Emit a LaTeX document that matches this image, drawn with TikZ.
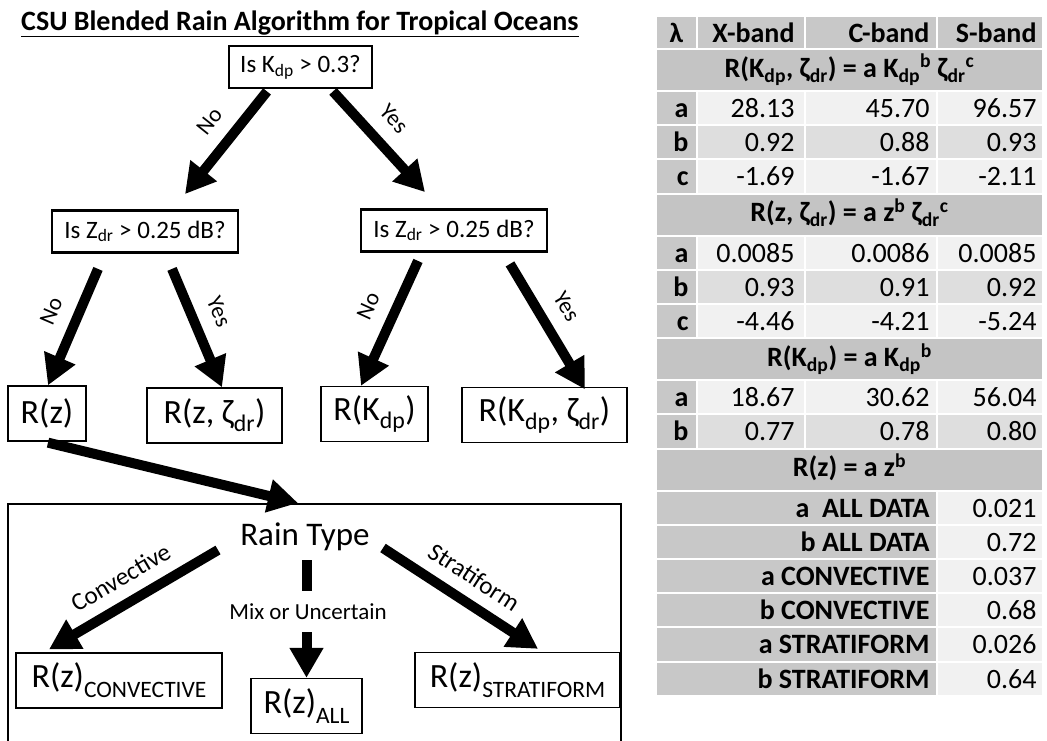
\documentclass[tikz,border=0pt]{standalone}
\usepackage{fontspec}
\setmainfont{Carlito}
\usetikzlibrary{arrows.meta,positioning}
\definecolor{cellgray}{RGB}{200,200,200}
\definecolor{rowgray}{RGB}{196,196,196}
\definecolor{lightcell}{RGB}{241,241,241}
\definecolor{midcell}{RGB}{222,222,222}
\newcommand{\fs}[1]{\fontsize{#1}{#1}\selectfont}
\newcommand{\lo}[1]{\textsubscript{#1}}
\newcommand{\hi}[1]{\textsuperscript{#1}}

\begin{document}
\begin{tikzpicture}[x=1pt,y=-1pt,
    question/.style={draw, line width=2.8pt, inner sep=0pt, minimum height=42pt, font=\fs{25}},
    result/.style={draw, line width=1.3pt, inner sep=0pt, minimum height=55pt, font=\fs{34}},
    bigarrow/.style={line width=10pt, -{Triangle[length=30pt,width=32pt]}},
    choice/.style={font=\fs{23}, sloped, above=13pt, inner sep=1pt, pos=0.45}]
    \useasboundingbox (0,0) rectangle (1047,740);

    % Title
    \node[anchor=base west, font=\fs{28}\bfseries, inner sep=0pt] (title) at (21,30) {\underline{CSU Blended Rain Algorithm for Tropical Oceans}};

    % Decision boxes
    \node[question, minimum width=143pt] (qkdp) at (300.5,67) {Is K\lo{dp} > 0.3?};
    \node[question, minimum width=186pt] (qzl) at (145,231.5) {Is Z\lo{dr} > 0.25 dB?};
    \node[question, minimum width=186pt] (qzr) at (454,230.5) {Is Z\lo{dr} > 0.25 dB?};

    % Estimators
    \node[result, minimum width=78pt] (rz) at (47,413.5) {R(z)};
    \node[result, minimum width=135pt] (rzz) at (214.5,415.5) {R(z, ζ\lo{dr})};
    \node[result, minimum width=107pt] (rk) at (374.5,414) {R(K\lo{dp})};
    \node[result, minimum width=165pt] (rkz) at (544.5,415) {R(K\lo{dp}, ζ\lo{dr})};

    % Arrows of the tree
    \draw[bigarrow] ([xshift=-33.5pt,yshift=-2pt]qkdp.south) -- node[choice] {No} ([xshift=40pt,yshift=15pt]qzl.north);
    \draw[bigarrow] ([xshift=32.5pt,yshift=-2pt]qkdp.south) -- node[choice] {Yes} ([xshift=-29pt,yshift=16pt]qzr.north);
    \draw[bigarrow] ([xshift=-47pt,yshift=-15pt]qzl.south) -- node[choice] {No} ([xshift=1pt]rz.north);
    \draw[bigarrow] ([xshift=27pt,yshift=-15pt]qzl.south) -- node[choice] {Yes} ([xshift=7.5pt]rzz.north);
    \draw[bigarrow] ([xshift=-36pt,yshift=-8pt]qzr.south) -- node[choice] {No} ([xshift=-13.5pt]rk.north);
    \draw[bigarrow] ([xshift=56pt,yshift=-11pt]qzr.south) -- node[choice] {Yes} ([xshift=40.5pt,yshift=-2.5pt]rkz.north);

    % Rain type box
    \node[draw, line width=2pt, minimum width=613pt, minimum height=260pt, anchor=north west] (rainbox) at (7,503) {};
    \draw[bigarrow] ([xshift=1pt,yshift=-1pt]rz.south) -- ([xshift=-16.5pt]rainbox.north);
    \node[font=\fs{33}, inner sep=0pt] (rtype) at (305,537) {Rain Type};
    \node[font=\fs{23}, inner sep=0pt] (mix) at (308,612) {Mix or Uncertain};
    \node[result, minimum width=206pt] (rzc) at (119,680.5) {R(z)\raisebox{-0.3em}{\fs{23.5}CONVECTIVE}};
    \node[result, minimum width=111pt] (rza) at (306.5,706) {R(z)\raisebox{-0.3em}{\fs{23.5}ALL}};
    \node[result, minimum width=205pt] (rzs) at (517.5,680) {R(z)\raisebox{-0.3em}{\fs{23.5}STRATIFORM}};
    \draw[bigarrow] ([xshift=-87pt,yshift=-13pt]rtype.center) -- node[choice, font=\fs{25}, pos=0.5, above=11pt] {Convective} ([xshift=-70pt,yshift=3pt]rzc.north);
    \draw[bigarrow] ([xshift=78pt,yshift=-11pt]rtype.center) -- node[choice, font=\fs{25}, pos=0.5, above=11pt] {Stratiform} ([xshift=20.5pt,yshift=3pt]rzs.north);
    \draw[line width=10pt] ([xshift=2pt,yshift=-23pt]rtype.center) -- ([xshift=2pt,yshift=-54pt]rtype.center);
    \draw[bigarrow] ([xshift=-1.5pt,yshift=-20pt]mix.center) -- (rza.north);

    % Table header
    \fill[cellgray] (657,17) rectangle (696,48);
    \fill[cellgray] (698,17) rectangle (804,48);
    \fill[cellgray] (806,17) rectangle (936,48);
    \fill[cellgray] (938,17) rectangle (1042,48);
    \node[font=\fs{28}\bfseries, anchor=base] (lam) at (676.5,42) {λ};
    \node[font=\fs{28}\bfseries, anchor=base east] (xband) at (798,42) {X-band};
    \node[font=\fs{28}\bfseries, anchor=base east] (cband) at (933,42) {C-band};
    \node[font=\fs{28}\bfseries, anchor=base east] (sband) at (1040,42) {S-band};

    % Formula rows
    \foreach \top/\eq [count=\i] in {50/{R(K\lo{dp}, ζ\lo{dr}) = a K\lo{dp}\hi{b} ζ\lo{dr}\hi{c}},
        194.6/{R(z, ζ\lo{dr}) = a z\hi{b} ζ\lo{dr}\hi{c}},
        339.2/{R(K\lo{dp}) = a K\lo{dp}\hi{b}},
        449.6/{R(z) = a z\hi{b}}} {
        \fill[rowgray] (657,\top) rectangle (1042,\top+40);
        \node[font=\fs{28}\bfseries, anchor=base] (eq-\i) at (849.5,\top+27) {\eq};
    }

    % Coefficient rows
    \foreach \top/\lbl/\xv/\cv/\sv/\shade [count=\i] in {
        92/a/28.13/45.70/96.57/lightcell, 126.2/b/0.92/0.88/0.93/midcell, 160.4/c/-1.69/-1.67/-2.11/lightcell,
        236.6/a/0.0085/0.0086/0.0085/lightcell, 270.8/b/0.93/0.91/0.92/midcell, 305/c/-4.46/-4.21/-5.24/lightcell,
        381.2/a/18.67/30.62/56.04/lightcell, 415.4/b/0.77/0.78/0.80/midcell} {
        \fill[cellgray] (657,\top) rectangle (696,\top+32.2);
        \fill[\shade] (698,\top) rectangle (804,\top+32.2);
        \fill[\shade] (806,\top) rectangle (936,\top+32.2);
        \fill[\shade] (938,\top) rectangle (1042,\top+32.2);
        \node[font=\fs{28}\bfseries, anchor=base east] (k-\i) at (692,\top+25.5) {\lbl};
        \node[font=\fs{28}, anchor=base east] (x-\i) at (798,\top+25.5) {\xv};
        \node[font=\fs{28}, anchor=base east] (c-\i) at (933,\top+25.5) {\cv};
        \node[font=\fs{28}, anchor=base east] (s-\i) at (1040,\top+25.5) {\sv};
    }

    % R(z) rows
    \foreach \lbl/\val [count=\i] in {a\ \ ALL DATA/0.021, b ALL DATA/0.72, a CONVECTIVE/0.037,
        b CONVECTIVE/0.68, a STRATIFORM/0.026, b STRATIFORM/0.64} {
        \pgfmathsetmacro{\top}{491.6+(\i-1)*34.2}
        \fill[cellgray] (657,\top) rectangle (936,\top+32.2);
        \fill[lightcell] (938,\top) rectangle (1042,\top+32.2);
        \node[font=\fs{28}\bfseries, anchor=base east] (zl-\i) at (933,\top+25.5) {\lbl};
        \node[font=\fs{28}, anchor=base east] (zv-\i) at (1040,\top+25.5) {\val};
    }
\end{tikzpicture}
\end{document}
